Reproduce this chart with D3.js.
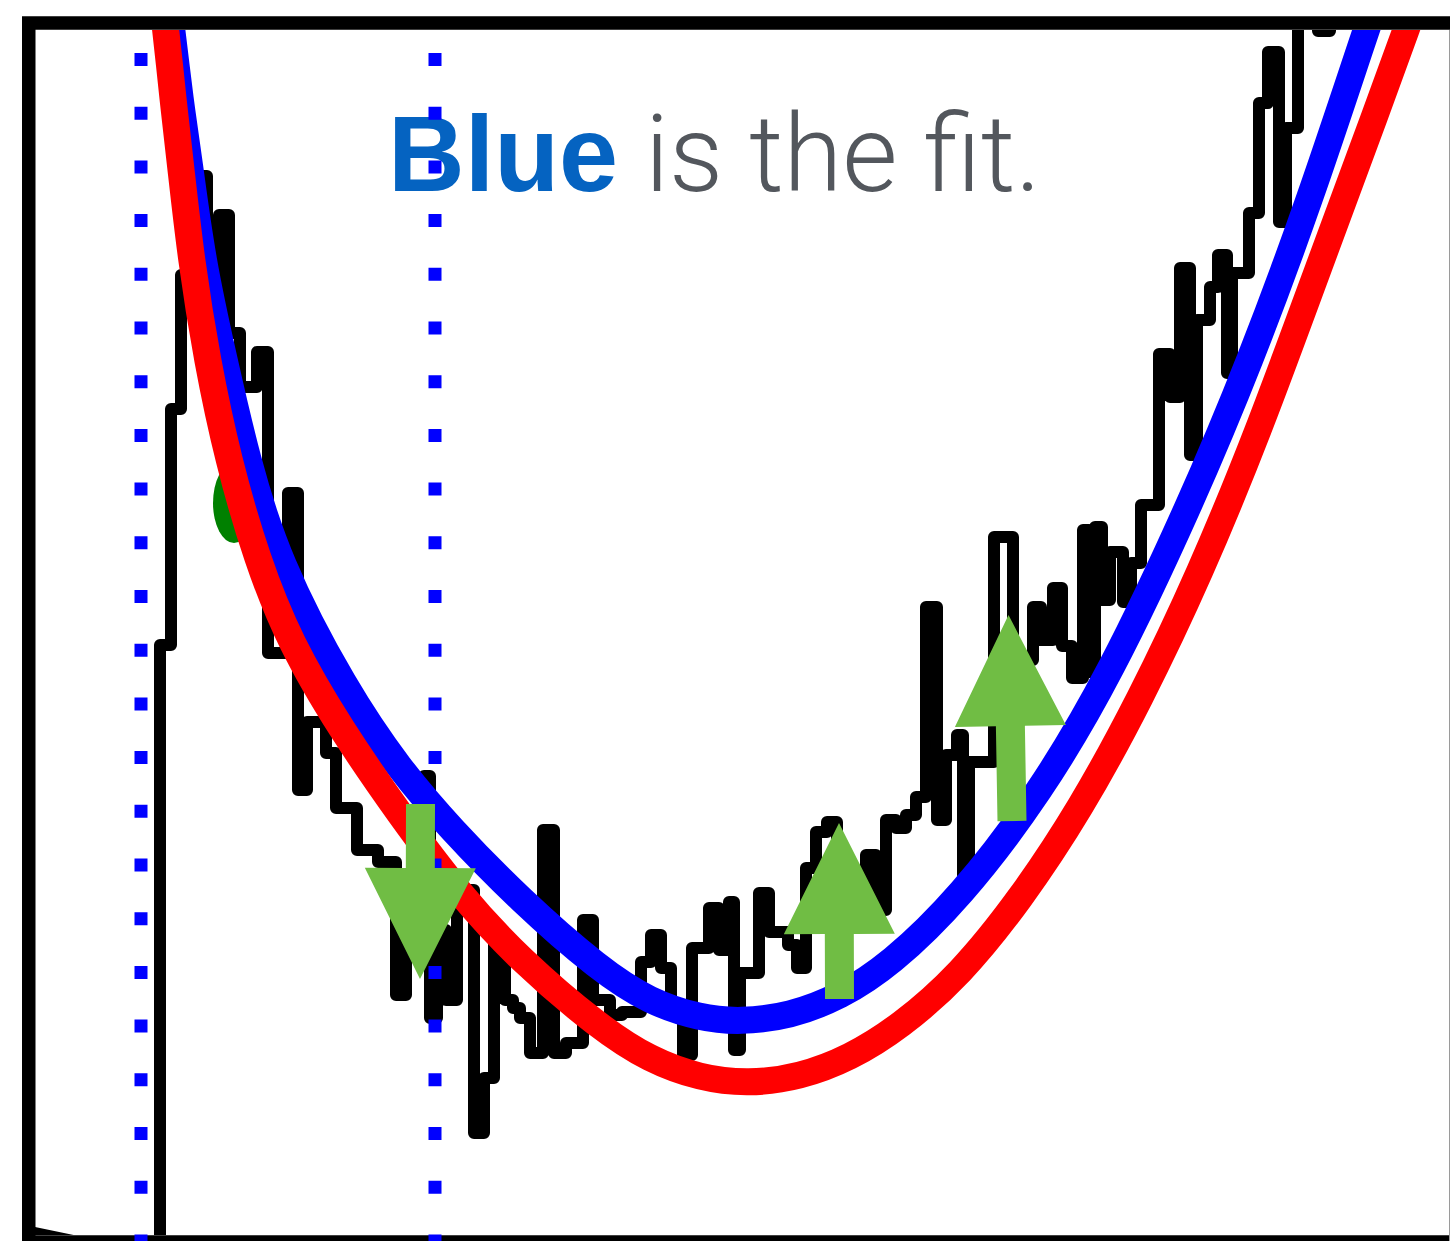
<!DOCTYPE html>
<html>
<head>
<meta charset="utf-8">
<script src="https://cdn.jsdelivr.net/npm/d3@7"></script>
<style>
  html, body { margin: 0; padding: 0; background: #ffffff; }
  svg { display: block; }
</style>
</head>
<body>
<svg id="chart" width="1450" height="1241"></svg>
<script>
// ---------------- DATA (data units: channel, counts) ----------------
// histogram bin edges (channel)
const binEdges = [16.0,17.1,18.1,19.7,20.7,21.9,22.9,24.0,25.7,26.8,
  28.8,29.8,30.7,32.6,33.6,35.7,37.8,39.6,40.6,42.4,
  43.0,43.7,44.6,45.7,47.4,48.4,49.4,50.5,51.3,52.0,
  53.0,54.3,55.4,56.6,58.3,59.3,61.0,62.2,64.1,65.1,
  66.1,67.1,68.3,69.2,70.9,71.9,72.9,73.4,74.0,75.9,
  76.9,78.8,79.7,80.6,81.6,82.7,83.7,86.6,87.6,88.6,
  89.6,90.6,91.6,92.6,93.7,94.6,95.7,96.3,96.9,99.4,
  101.3,103.3,104.1,105.3,106.2,107.2,108.3,108.9,109.5,110.2,111.0,112.3,
  113.1,114.1,115.9,117.0,118.0,119.0,119.7,121.0,121.8,122.7,
  123.2,124.9,125.9,126.8,127.9,128.6,129.8,131.8,133.0,145.0];
// histogram counts per bin
const binCounts = [59.6,83.2,96.6,106.5,88.1,102.6,90.8,85.4,88.9,58.8,
  74.8,45.1,51.9,48.8,43.3,39.1,37.9,24.6,34.1,46.5,
  22.3,31.1,24.1,35.1,10.8,16.3,30.1,24.1,23.3,22.3,
  18.8,41.1,18.8,19.8,32.1,24.1,22.6,22.9,27.9,30.6,
  27.3,22.9,18.6,29.3,33.3,29.1,33.9,19.1,26.8,34.8,
  30.9,29.6,27.3,37.3,40.9,41.9,36.1,38.6,33.1,42.1,
  41.3,42.6,44.4,63.4,42.1,48.6,50.6,36.6,47.9,70.4,
  58.1,63.4,60.1,65.3,59.5,56.3,71.1,56.9,71.4,64.1,68.9,63.9,
  67.8,73.6,88.7,84.4,97.3,78.6,92.1,95.4,98.6,86.8,
  96.8,102.8,113.8,118.9,101.9,111.3,127.1,121.0,127.1];
// low-channel tail of the spectrum
const tailX = [3.5, 7.3, 16.0];
const tailY = [0.8, 0.0, 0.0];

// fitted curve (blue)
const fitX = [16.4,17.2,18.0,18.9,20.2,22.4,24.7,27.7,34.5,40.0,45.0,52.0,60.0,65.0,70.0,74.0,79.0,84.0,89.0,96.0,104.0,111.0,119.0,125.0,131.0,136.6,139.0];
const fitY = [127.1,121.1,114.1,108.1,98.1,88.1,78.1,68.1,55.1,47.1,41.3,34.1,27.1,23.9,22.3,21.9,22.5,24.4,27.6,34.3,44.8,56.6,73.6,87.9,104.1,121.1,128.1];
// reference curve (red)
const refX = [15.8,16.6,17.3,18.0,19.1,20.7,22.8,25.7,29.0,34.0,40.0,46.0,52.0,60.0,65.0,70.0,74.8,80.0,85.0,90.0,96.0,102.0,108.0,114.0,120.0,126.0,132.2,138.0,140.6,143.1];
const refY = [127.1,121.1,114.1,108.1,98.1,88.1,78.1,68.1,59.8,51.3,42.6,34.6,28.1,21.3,18.1,16.3,15.7,16.4,18.3,21.4,26.6,34.1,43.1,54.1,66.7,81.3,98.3,113.9,121.1,128.1];

// window limits (dotted lines)
const windowX = [14.1, 43.5];

// annotation arrows: tail and tip
const arrowTail = [[42.05, 43.7], [83.95, 24.2], [101.2, 42.0]];
const arrowTip  = [[42.0, 26.2], [83.9, 41.8], [100.85, 62.6]];

// marker blob
const blob = {x: 23.4, y: 73.8};

// title
const titleBold = "Blue";
const titleRest = "is the fit.";

// ---------------- DRAW ----------------
const W = 1450, H = 1241;
const svg = d3.select("#chart");
const x = d3.scaleLinear().domain([0, 145]).range([0, W]);
const y = d3.scaleLinear().domain([0, 124.1]).range([H, 0]);

svg.append("rect").attr("width", W).attr("height", H).attr("fill", "#fff");

const defs = svg.append("defs");
defs.append("clipPath").attr("id", "inner")
  .append("rect").attr("x", 35).attr("y", 30).attr("width", W - 35).attr("height", 1205);

const plot = svg.append("g").attr("clip-path", "url(#inner)");

// histogram
const histPts = [[binEdges[0], 0]];
binCounts.forEach((c, i) => histPts.push([binEdges[i], c]));
histPts.push([binEdges[binEdges.length - 1], binCounts[binCounts.length - 1]]);
const stepLine = d3.line().x(d => x(d[0])).y(d => y(d[1])).curve(d3.curveStepAfter);
plot.append("path").attr("d", stepLine(histPts))
  .attr("fill", "none").attr("stroke", "#000").attr("stroke-width", 12)
  .attr("stroke-linejoin", "round").attr("stroke-linecap", "round");
const lin = d3.line().x(d => x(d[0])).y(d => y(d[1]));
plot.append("path").attr("d", lin(tailX.map((v, i) => [v, tailY[i]])))
  .attr("fill", "none").attr("stroke", "#000").attr("stroke-width", 12)
  .attr("stroke-linejoin", "round").attr("stroke-linecap", "round");

// blob
plot.append("ellipse").attr("cx", x(blob.x)).attr("cy", y(blob.y))
  .attr("rx", 21).attr("ry", 40).attr("fill", "#008000");

// curves
const smooth = d3.line().x(d => x(d[0])).y(d => y(d[1])).curve(d3.curveBasis);
plot.append("path").attr("d", smooth(fitX.map((v, i) => [v, fitY[i]])))
  .attr("fill", "none").attr("stroke", "#0000ff").attr("stroke-width", 27);
plot.append("path").attr("d", smooth(refX.map((v, i) => [v, refY[i]])))
  .attr("fill", "none").attr("stroke", "#ff0000").attr("stroke-width", 27);

// frame
svg.append("rect").attr("x", 28.75).attr("y", 23).attr("width", 1440).attr("height", 1219)
  .attr("fill", "none").attr("stroke", "#000").attr("stroke-width", 13.5);
svg.append("line").attr("x1", 1449.5).attr("x2", 1449.5).attr("y1", 30).attr("y2", H)
  .attr("stroke", "#9a9a9a").attr("stroke-width", 1);

// title
svg.append("text").attr("x", 388).attr("y", 191)
  .attr("font-family", "'Liberation Sans', Arial, sans-serif").attr("font-weight", 700)
  .attr("font-size", 107).attr("fill", "#0563c1")
  .attr("textLength", 230).attr("lengthAdjust", "spacingAndGlyphs")
  .text(titleBold);
svg.append("text").attr("x", 645).attr("y", 191)
  .attr("font-family", "Roboto, 'Open Sans', sans-serif").attr("font-weight", 300)
  .attr("font-size", 107).attr("fill", "#53575d")
  .attr("textLength", 396).attr("lengthAdjust", "spacingAndGlyphs")
  .text(titleRest);

// dotted window lines
svg.selectAll("line.win").data(windowX).enter().append("line")
  .attr("class", "win")
  .attr("x1", d => x(d)).attr("x2", d => x(d))
  .attr("y1", 53).attr("y2", H)
  .attr("stroke", "#0000ff").attr("stroke-width", 13)
  .attr("stroke-dasharray", "13 40.7");

// arrows
const shaftW = 29, headW = 111, headL = 111;
arrowTail.forEach((t, i) => {
  const p = arrowTip[i];
  const tx = x(t[0]), ty = y(t[1]), px = x(p[0]), py = y(p[1]);
  const len = Math.hypot(px - tx, py - ty);
  const ux = (px - tx) / len, uy = (py - ty) / len;
  const nx = -uy, ny = ux;
  const bx = px - ux * headL, by = py - uy * headL;
  const pts = [
    [tx + nx * shaftW / 2, ty + ny * shaftW / 2],
    [bx + nx * shaftW / 2, by + ny * shaftW / 2],
    [bx + nx * headW / 2, by + ny * headW / 2],
    [px, py],
    [bx - nx * headW / 2, by - ny * headW / 2],
    [bx - nx * shaftW / 2, by - ny * shaftW / 2],
    [tx - nx * shaftW / 2, ty - ny * shaftW / 2]
  ];
  svg.append("polygon").attr("points", pts.map(q => q.join(",")).join(" "))
    .attr("fill", "#70bd44");
});
</script>
</body>
</html>
